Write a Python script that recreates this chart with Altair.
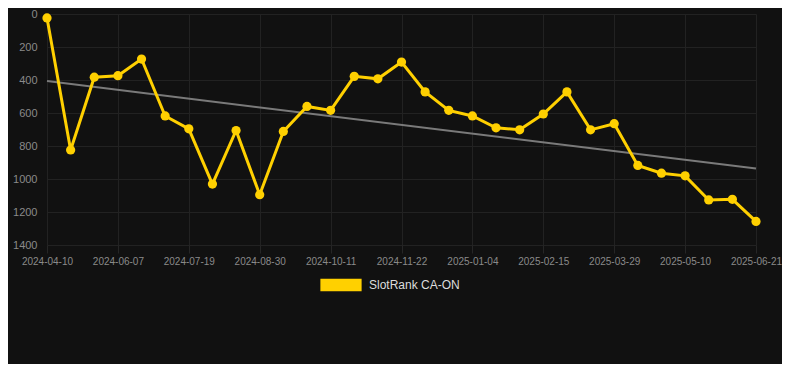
import altair as alt
import pandas as pd

dates = [
    "2024-04-10", "2024-04-29", "2024-05-18", "2024-06-07", "2024-06-21", "2024-07-05",
    "2024-07-19", "2024-08-02", "2024-08-16", "2024-08-30", "2024-09-13", "2024-09-27",
    "2024-10-11", "2024-10-25", "2024-11-08", "2024-11-22", "2024-12-06", "2024-12-20",
    "2025-01-04", "2025-01-18", "2025-02-01", "2025-02-15", "2025-03-01", "2025-03-15",
    "2025-03-29", "2025-04-12", "2025-04-26", "2025-05-10", "2025-05-24", "2025-06-07",
    "2025-06-21",
]
ranks = [
    24, 824, 383, 374, 273, 618, 696, 1031, 706, 1095, 712, 560, 584, 378, 393,
    291, 472, 584, 618, 690, 702, 606, 472, 702, 665, 918, 965, 981, 1127, 1123, 1257,
]
series_name = "SlotRank CA-ON"
tick_labels = dates[::3]
y_ticks = [0, 200, 400, 600, 800, 1000, 1200, 1400]

df = pd.DataFrame({
    "idx": list(range(len(dates))),
    "date": dates,
    "rank": ranks,
    "series": [series_name] * len(dates),
})

label_expr = "[" + ",".join(f"'{d}'" for d in tick_labels) + "][round(datum.value / 3)]"

FONT = "Liberation Sans"
YELLOW = "#FFD000"

x_enc = alt.X(
    "idx:Q",
    scale=alt.Scale(domain=[0, len(dates) - 1], nice=False, zero=False),
    axis=alt.Axis(
        values=list(range(0, len(dates), 3)),
        labelExpr=label_expr,
        labelOverlap=False,
        labelFlush=False,
        title=None,
        grid=True,
        ticks=True,
        tickSize=8,
        tickColor="#262626",
        labelPadding=3,
        labelFontSize=10,
        labelColor="#8a8a8a",
        labelFont=FONT,
        domain=False,
    ),
)
y_enc = alt.Y(
    "rank:Q",
    scale=alt.Scale(domain=[0, 1400], reverse=True, nice=False, zero=False),
    axis=alt.Axis(
        values=y_ticks,
        format="d",
        labelFlush=False,
        title=None,
        grid=True,
        ticks=False,
        labelPadding=10,
        labelFontSize=11,
        labelColor="#8a8a8a",
        labelFont=FONT,
        domain=False,
    ),
)

base = alt.Chart(df)

trend = base.transform_regression("idx", "rank").mark_line(
    color="#7a7a7a", strokeWidth=2
).encode(x=x_enc, y=y_enc)

line = base.mark_line(color=YELLOW, strokeWidth=3).encode(x=x_enc, y=y_enc)

points = base.mark_circle(size=85, opacity=1).encode(
    x=x_enc,
    y=y_enc,
    color=alt.Color(
        "series:N",
        scale=alt.Scale(range=[YELLOW]),
        legend=alt.Legend(
            title=None,
            orient="none",
            legendX=273,
            legendY=250,
            symbolType="M-1,-0.3L1,-0.3L1,0.3L-1,0.3Z",
            symbolSize=1700,
            symbolFillColor=YELLOW,
            symbolStrokeWidth=0,
            symbolOpacity=1,
            labelColor="#dddddd",
            labelFontSize=12,
            labelFont=FONT,
            labelOffset=7,
        ),
    ),
)

chart = (
    alt.layer(trend, line, points)
    .properties(
        width=709,
        height=231,
        background="#111111",
        padding={"left": 4, "top": 0, "right": 0, "bottom": 72},
    )
    .configure_view(stroke=None)
    .configure_axis(gridColor="#222222", gridWidth=1)
)

chart.save("out.html", embed_options={"renderer": "svg", "actions": False})
